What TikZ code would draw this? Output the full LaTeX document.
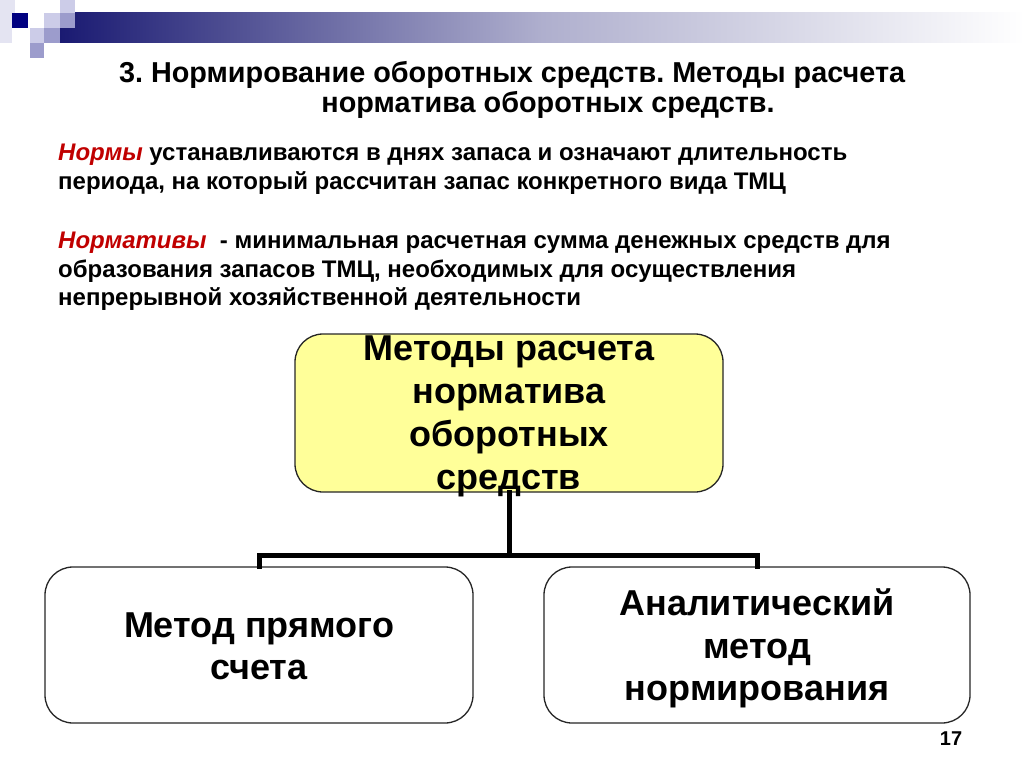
\documentclass[tikz,border=0pt]{standalone}
\usepackage{fontspec}
\setmainfont{Liberation Sans}
\frenchspacing
\definecolor{navyd}{HTML}{1A1A72}
\definecolor{sqdark}{HTML}{000080}
\definecolor{sqlight}{HTML}{CCCCE8}
\definecolor{sqmid}{HTML}{9C9CCC}
\definecolor{sqpale}{HTML}{E4E4F2}
\definecolor{redt}{HTML}{C00000}
\definecolor{boxyellow}{HTML}{FFFF99}
\tikzset{
  title/.style={font=\fontsize{28.8}{34}\selectfont\bfseries, inner sep=0pt, anchor=base},
  body/.style={font=\fontsize{24}{29}\selectfont\bfseries, inner sep=0pt, anchor=base west},
  rbox/.style={draw=black!85, line width=1.3pt, rounded corners=28pt, inner sep=0pt},
  boxtext/.style={font=\fontsize{36}{43}\selectfont\bfseries, inner sep=0pt, anchor=base},
  conn/.style={line width=5pt, line cap=rect},
}
\begin{document}
\begin{tikzpicture}[x=1pt,y=-1pt]
\useasboundingbox (0,0) rectangle (1024,767);
% decoration
\shade[left color=navyd, right color=white, middle color=navyd!35] (60,13) rectangle (1024,43);
\fill[sqpale] (0,0) rectangle (15,13);
\fill[sqpale] (0,13) rectangle (12,43);
\fill[sqdark] (12,13) rectangle (28,28);
\fill[sqlight] (44,13) rectangle (60,28);
\fill[sqlight] (60,0) rectangle (75,13);
\fill[sqmid] (60,13) rectangle (75,28);
\fill[sqlight] (30,28) rectangle (44,43);
\fill[sqmid] (44,28) rectangle (60,43);
\fill[sqmid] (30,43) rectangle (44,58);
% title
\node[title] (t1) at (512,83) {3. Нормирование оборотных средств. Методы расчета};
\node[title] (t2) at (548,113) {норматива оборотных средств.};
% body
\node[body] (p1a) at (58,161) {\textcolor{redt}{\itshape Нормы} устанавливаются в днях запаса и означают длительность};
\node[body] (p1b) at (58,190) {периода, на который рассчитан запас конкретного вида ТМЦ};
\node[body] (p2a) at (58,248) {\textcolor{redt}{\itshape Нормативы} \ - минимальная расчетная сумма денежных средств для};
\node[body] (p2b) at (58,277) {образования запасов ТМЦ, необходимых для осуществления};
\node[body] (p2c) at (58,305) {непрерывной хозяйственной деятельности};
% boxes
\node[rbox, fill=boxyellow, minimum width=428pt, minimum height=158pt] (top) at (509,413) {};
\node[boxtext] (tl1) at (509,360) {Методы расчета};
\node[boxtext] (tl2) at (509,403) {норматива};
\node[boxtext] (tl3) at (509,446) {оборотных};
\node[boxtext] (tl4) at (509,489) {средств};
\node[rbox, fill=white, minimum width=428pt, minimum height=156pt] (left) at (259,645) {};
\node[boxtext] (ll1) at (259,637) {Метод прямого};
\node[boxtext] (ll2) at (259,679) {счета};
\node[rbox, fill=white, minimum width=426pt, minimum height=156pt] (right) at (757,645) {};
\node[boxtext] (rl1) at (757,615) {Аналитический};
\node[boxtext] (rl2) at (757,658) {метод};
\node[boxtext] (rl3) at (757,700) {нормирования};
% connectors
\coordinate (j) at (509,555);
\draw[conn] (top.south) -- (j);
\draw[conn] (left.north) -- (left.north |- j) -- (right.north |- j) -- (right.north);
% page number
\node[font=\fontsize{20}{22}\selectfont\bfseries, inner sep=0pt, anchor=base] (pn) at (951,745) {17};
\end{tikzpicture}
\end{document}
